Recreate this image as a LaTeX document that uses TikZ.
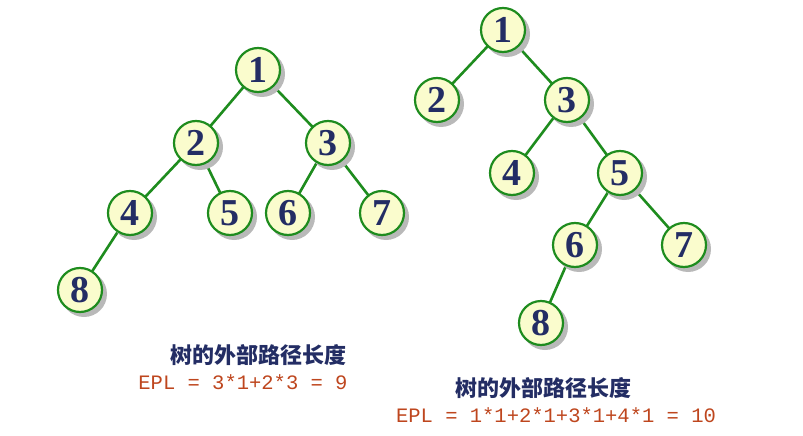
\documentclass[tikz,border=0pt]{standalone}
\usepackage{fontspec}
\setmainfont{Liberation Serif}
\newfontfamily\cjk{Noto Sans CJK SC}
\newfontfamily\eplfont{Liberation Mono}
\definecolor{ringgreen}{RGB}{30,140,30}
\definecolor{nodefill}{RGB}{250,252,205}
\definecolor{numblue}{RGB}{35,45,100}
\definecolor{eplred}{RGB}{190,70,30}
\definecolor{shadegrey}{RGB}{185,185,185}
\begin{document}
\begin{tikzpicture}[x=1pt,y=-1pt,
    V/.style = {circle, draw=ringgreen, line width=2.2pt, fill=nodefill,
                minimum size=44pt, inner sep=0pt,
                font=\fontsize{38}{38}\selectfont\bfseries, text=numblue},
    S/.style = {circle, fill=shadegrey, minimum size=46pt, inner sep=0pt},
    E/.style = {draw=ringgreen, line width=2.6pt},
    T/.style = {font=\cjk\fontsize{22}{24}\selectfont\bfseries, text=numblue},
    P/.style = {font=\eplfont\fontsize{20.5}{22}\selectfont, text=eplred},
                        ]
\useasboundingbox (0,0) rectangle (803,436);
% edges first, nodes on top
\coordinate (l1) at (258,70);  \coordinate (l2) at (196,143);
\coordinate (l3) at (328,143); \coordinate (l4) at (130,213);
\coordinate (l5) at (230,213); \coordinate (l6) at (288,213);
\coordinate (l7) at (382,213); \coordinate (l8) at (80,290);
\coordinate (r1) at (503,30);  \coordinate (r2) at (437,100);
\coordinate (r3) at (567,100); \coordinate (r4) at (512,173);
\coordinate (r5) at (620,173); \coordinate (r6) at (575,245);
\coordinate (r7) at (684,245); \coordinate (r8) at (541,323);
\foreach \a/\b in {l1/l2,l1/l3,l2/l4,l2/l5,l3/l6,l3/l7,l4/l8,
                   r1/r2,r1/r3,r3/r4,r3/r5,r5/r6,r5/r7,r6/r8}
    \draw[E] (\a) -- (\b);
% both trees
\foreach \n/\t in {l1/1,l2/2,l3/3,l4/4,l5/5,l6/6,l7/7,l8/8,
                   r1/1,r2/2,r3/3,r4/4,r5/5,r6/6,r7/7,r8/8}{
    \node[S] (s\n) at ([xshift=4pt,yshift=-4pt]\n) {};
    \node[V] (v\n) at (\n) {\t};}
\node[T] (lt) at (258,355) {树的外部路径长度};
\node[P] (lp) at (243,382) {EPL = 3*1+2*3 = 9};
\node[T] (rt) at (543,388) {树的外部路径长度};
\node[P] (rp) at (556,415) {EPL = 1*1+2*1+3*1+4*1 = 10};
\end{tikzpicture}
\end{document}
